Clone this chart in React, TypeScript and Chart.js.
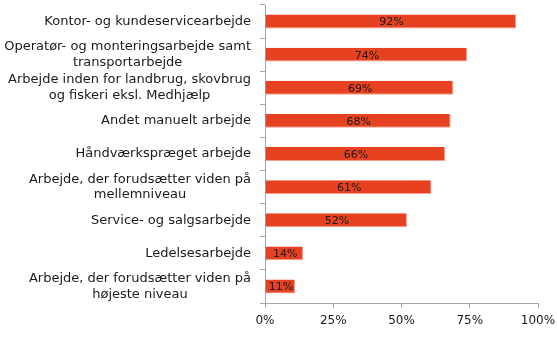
import React, { useEffect, useRef } from "react";
import { Chart, registerables } from "chart.js";

Chart.register(...registerables);

const categories: string[][] = [
  ["Kontor- og kundeservicearbejde"],
  ["Operatør- og monteringsarbejde samt", "transportarbejde"],
  ["Arbejde inden for landbrug, skovbrug", "og fiskeri eksl. Medhjælp"],
  ["Andet manuelt arbejde"],
  ["Håndværkspræget arbejde"],
  ["Arbejde, der forudsætter viden på", "mellemniveau"],
  ["Service- og salgsarbejde"],
  ["Ledelsesarbejde"],
  ["Arbejde, der forudsætter viden på", "højeste niveau"],
];
const values: number[] = [92, 74, 69, 68, 66, 61, 52, 14, 11];
const xTicks: number[] = [0, 25, 50, 75, 100];

const FONT = "'DejaVu Sans', sans-serif";

const labelsPlugin = {
  id: "customLabels",
  afterDatasetsDraw(chart: any) {
    const ctx = chart.ctx;
    const y = chart.scales.y;
    const x = chart.scales.x;
    const area = chart.chartArea;
    ctx.save();
    ctx.fillStyle = "#1a1a1a";
    ctx.textBaseline = "middle";
    ctx.font = `13px ${FONT}`;
    const lineH = 15.5;
    categories.forEach((lines, i) => {
      const cy = y.getPixelForValue(i);
      const widths = lines.map((l) => ctx.measureText(l).width);
      const w = Math.max(...widths);
      const rightX = area.left - 14;
      const cx = rightX - w / 2;
      ctx.textAlign = "center";
      const start = cy - ((lines.length - 1) * lineH) / 2;
      lines.forEach((l, j) => ctx.fillText(l, cx, start + j * lineH));
    });
    ctx.font = `11px ${FONT}`;
    ctx.textAlign = "center";
    values.forEach((v, i) => {
      const cy = y.getPixelForValue(i);
      const x0 = x.getPixelForValue(0);
      const x1 = x.getPixelForValue(v);
      ctx.fillText(v + "%", (x0 + x1) / 2 + 1, cy + 1);
    });
    ctx.restore();
  },
};

export default function App() {
  const ref = useRef<HTMLCanvasElement | null>(null);
  useEffect(() => {
    document.body.style.margin = "0";
    const chart = new Chart(ref.current as HTMLCanvasElement, {
      type: "bar",
      data: {
        labels: categories.map((c) => c.join(" ")),
        datasets: [
          {
            data: values,
            backgroundColor: "#E64221",
            borderColor: "#F2A08E",
            borderWidth: { top: 0, left: 0, right: 1, bottom: 1 },
            borderSkipped: false,
            barPercentage: 0.42,
            categoryPercentage: 1,
          },
        ],
      },
      options: {
        indexAxis: "y",
        animation: false,
        responsive: false,
        maintainAspectRatio: false,
        layout: { padding: { top: 5, right: 0, left: 0, bottom: 0 } },
        plugins: { legend: { display: false }, tooltip: { enabled: false } },
        scales: {
          x: {
            min: 0,
            max: 100,
            afterBuildTicks: (s: any) => {
              s.ticks = xTicks.map((v) => ({ value: v }));
            },
            afterFit: (s: any) => {
              s.height = 38;
              s.paddingRight = 19;
              s.paddingLeft = 0;
            },
            grid: {
              drawOnChartArea: false,
              drawTicks: true,
              tickLength: 5,
              color: "#A6A6A6",
            },
            border: { display: true, color: "#A6A6A6" },
            ticks: {
              padding: 6,
              color: "#1a1a1a",
              font: { family: FONT, size: 12 },
              callback: (v: any) => v + "%",
            },
          },
          y: {
            afterFit: (s: any) => {
              s.width = 265;
            },
            grid: {
              drawOnChartArea: false,
              drawTicks: true,
              tickLength: 5,
              offset: true,
              color: "#A6A6A6",
            },
            border: { display: true, color: "#A6A6A6" },
            ticks: { display: false },
          },
        },
      },
      plugins: [labelsPlugin],
    });
    return () => chart.destroy();
  }, []);
  return (
    <div style={{ width: 557, height: 341 }}>
      <canvas ref={ref} width={557} height={341} style={{ width: 557, height: 341 }} />
    </div>
  );
}
